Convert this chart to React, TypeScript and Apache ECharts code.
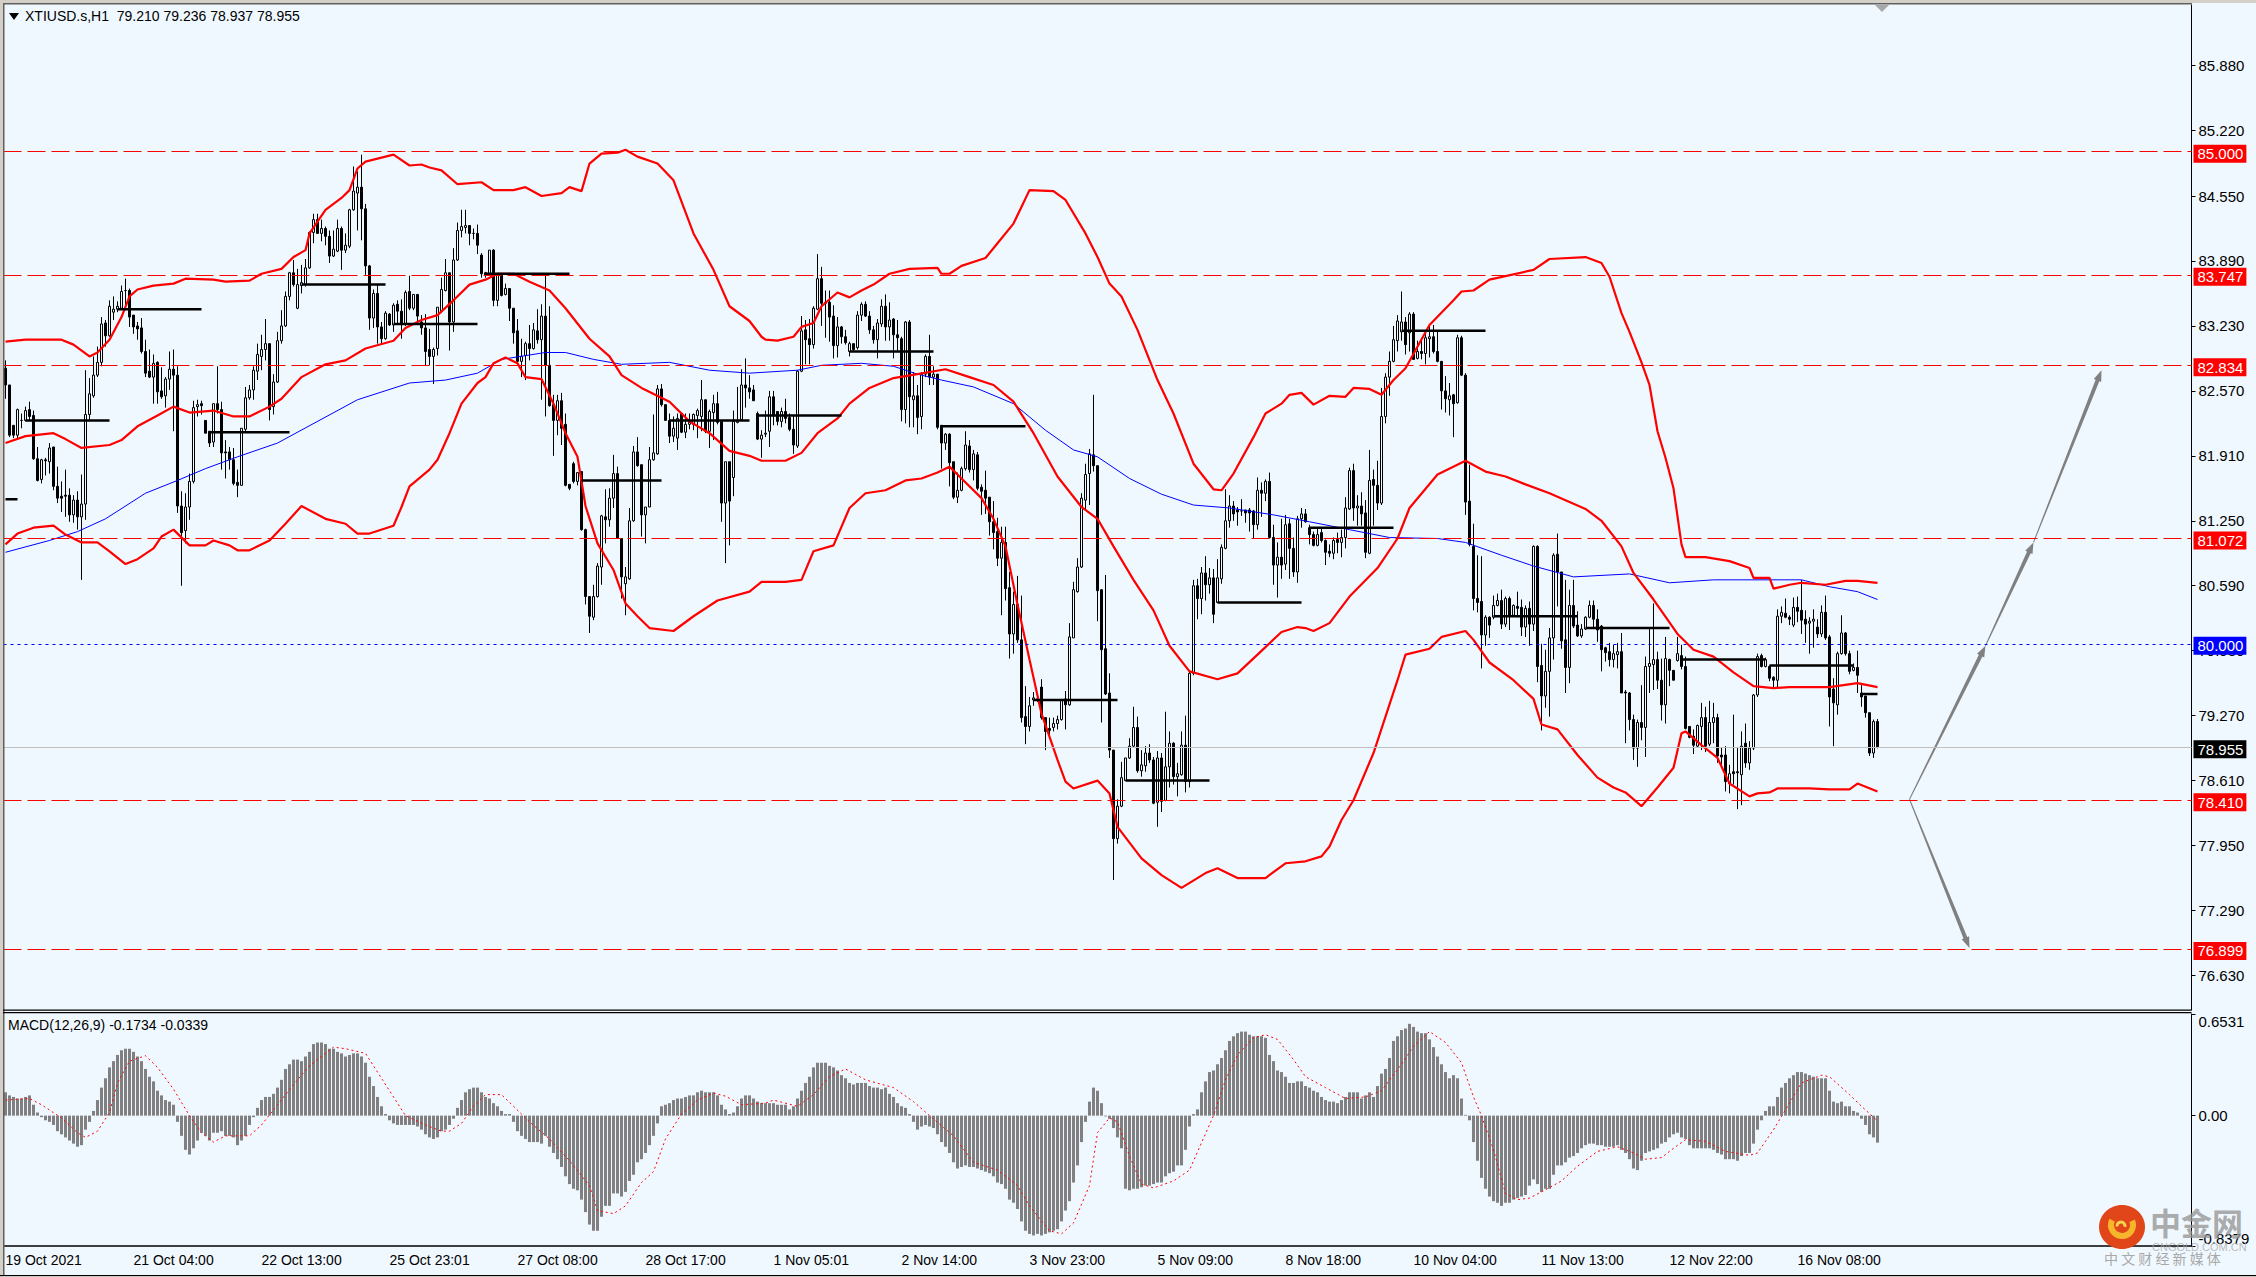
import React, { useEffect, useRef } from "react";
import * as echarts from "echarts";

const timeLabels = ["19 Oct 2021","21 Oct 04:00","22 Oct 13:00","25 Oct 23:01","27 Oct 08:00","28 Oct 17:00","1 Nov 05:01","2 Nov 14:00","3 Nov 23:00","5 Nov 09:00","8 Nov 18:00","10 Nov 04:00","11 Nov 13:00","12 Nov 22:00","16 Nov 08:00"];
const priceTicks = [85.88,85.22,84.55,83.89,83.23,82.57,81.91,81.25,80.59,79.93,79.27,78.61,77.95,77.29,76.63];
const macdTicks = [-0.8379,0,0.6531];
const titleText = "XTIUSD.s,H1  79.210 79.236 78.937 78.955";
const macdText = "MACD(12,26,9) -0.1734 -0.0339";

// [open, close, low, high]
const barsA = [[82.8,82.63,82.49,82.88],[82.63,82.12,82.1,82.63],[82.22,82.12,82.09,82.22],[82.12,82.38,82.09,82.39],[82.27,82.27,82.19,82.34],[82.27,82.37,82.26,82.41],[82.38,82.31,82.27,82.46],[82.32,81.88,81.87,82.37],[81.88,81.66,81.65,82],[81.67,81.87,81.63,81.88],
[81.87,81.86,81.71,81.89],[81.85,81.99,81.73,82.04],[82,81.6,81.56,82],[81.6,81.48,81.43,81.8],[81.5,81.48,81.34,81.65],[81.51,81.5,81.29,81.77],[81.51,81.31,81.24,81.58],[81.31,81.46,81.23,81.51],[81.46,81.29,81.16,81.55],[81.29,81.42,80.65,81.72],
[81.42,82.33,81.26,82.78],[82.33,82.54,82.27,82.7],[82.52,82.73,82.5,82.92],[82.73,82.86,82.71,83.02],[82.86,83.25,82.82,83.32],[83.26,83.13,83.02,83.29],[83.13,83.43,83.12,83.49],[83.37,83.4,83.29,83.53],[83.4,83.43,83.37,83.48],[83.41,83.58,83.39,83.64],
[83.59,83.59,83.41,83.71],[83.59,83.32,83.22,83.61],[83.34,83.22,83.15,83.34],[83.23,83.2,83.09,83.27],[83.21,82.97,82.95,83.31],[82.97,82.75,82.71,83.09],[82.77,82.71,82.7,82.99],[82.71,82.85,82.44,82.94],[82.86,82.56,82.44,82.87],[82.57,82.51,82.49,82.81],
[82.52,82.69,82.4,82.71],[82.69,82.79,82.58,82.97],[82.79,82.73,82.16,82.99],[82.73,81.4,81.33,82.82],[81.4,81.13,80.59,81.55],[81.15,81.39,81.02,81.53],[81.39,81.65,81.26,81.73],[81.65,82.4,81.63,82.47],[82.41,82.43,82.31,82.48],[82.44,82.42,82.33,82.47],
[82.27,82.14,82.14,82.27],[82.16,82.04,82,82.16],[82.05,82.44,82,82.44],[82.44,82.38,82.34,82.82],[82.38,81.94,81.77,82.46],[81.95,81.94,81.68,82.07],[81.95,81.87,81.77,82],[81.87,81.63,81.61,81.99],[81.64,81.61,81.49,81.77],[81.61,82.19,81.61,82.19],
[82.18,82.5,82.16,82.61],[82.5,82.58,82.48,82.63],[82.58,82.78,82.48,82.82],[82.77,82.94,82.68,83.05],[82.92,82.99,82.78,83.14],[82.99,83.05,82.88,83.3],[83.05,82.38,82.27,83.05],[82.41,82.66,82.33,82.74],[82.66,83.08,82.65,83.17],[83.08,83.23,83.05,83.39],
[83.23,83.53,83.22,83.58],[83.53,83.77,83.49,83.78],[83.77,83.65,83.63,83.9],[83.41,83.65,83.4,83.81],[83.64,83.67,83.56,83.85],[83.65,83.82,83.63,83.91],[83.82,84.18,83.81,84.19],[84.18,84.31,84.07,84.37],[84.31,84.17,84.17,84.37],[84.17,84.22,84.09,84.31],
[84.22,84.14,84.05,84.24],[84.14,83.94,83.87,84.2],[83.94,84.01,83.93,84.2],[83.99,84.22,83.98,84.31],[84.22,84,83.8,84.24],[84,84.05,83.97,84.17],[84.04,84.41,84.02,84.42],[84.41,84.6,84.4,84.85],[84.58,84.64,84.2,84.8],[84.64,84.42,84.1,84.97],
[84.42,83.84,83.75,84.47],[83.84,83.31,83.19,83.85],[83.31,83.56,83.21,83.6]];
const barsB = [[83.56,83.22,83.05,83.65],[83.22,83.1,83.05,83.27],[83.1,83.36,83.09,83.38],[83.35,83.24,83.23,83.36],[83.24,83.44,83.17,83.46],[83.45,83.38,83.26,83.49],[83.38,83.25,83.1,83.5],[83.25,83.57,83.23,83.59],
[83.58,83.41,83.39,83.74],[83.41,83.55,83.39,83.55],[83.55,83.33,83.27,83.55],[83.27,83.21,83.14,83.34],[83.21,82.97,82.83,83.35],[82.99,82.92,82.83,83.2],[82.92,82.99,82.64,83.01],[83,83.42,82.93,83.42],[83.38,83.6,83.36,83.72],[83.59,83.77,83.58,83.91],
[83.77,83.27,82.98,83.77],[83.27,83.9,83.17,84.02],[83.9,84.2,83.89,84.28],[84.2,84.24,84.13,84.41],[84.23,84.25,84.17,84.41],[84.25,84.17,84.05,84.25],[84.17,84.17,84.11,84.22],[84.17,84.05,83.96,84.26],[83.95,83.76,83.72,83.97],[83.77,83.75,83.72,83.78],
[83.76,84,83.75,84],[84,83.49,83.43,84.01],[83.49,83.75,83.43,83.76],[83.75,83.54,83.53,83.76],[83.55,83.61,83.54,83.66],[83.61,83.41,83.28,83.61],[83.41,83.16,83.05,83.41],[83.18,82.87,82.83,83.3],[82.87,82.92,82.71,83.1],[82.93,83.05,82.68,83.07],
[83.05,83,82.88,83.24],[83,83.19,82.99,83.26],[83.18,83.09,83.05,83.4],[83.09,83.33,82.48,83.45],[83.33,82.83,82.31,83.76],[82.83,82.42,82.41,83.43],[82.43,82.27,81.91,82.53],[82.27,82.47,82.12,82.53],[82.47,82.19,82.02,82.55],[82.23,81.61,81.6,82.34],
[81.62,81.58,81.56,81.62],[81.83,81.65,81.63,81.85],[81.65,81.74,81.61,81.74],[81.75,81.16,81.15,81.75],[81.16,80.48,80.4,81.17],[80.48,80.28,80.11,80.48],[80.27,80.48,80.24,80.6],[80.48,80.79,80.47,80.82],[80.78,81.3,80.6,81.31],[81.29,81.26,81.02,81.57],
[81.26,81.48,81.19,81.58],[81.48,81.73,81.38,81.92],[81.73,81.07,81.07,81.8],[81.07,80.68,80.46,81.07],[80.61,80.68,80.29,80.78],[80.66,81.25,80.65,81.38],[81.25,81.95,81.24,82.01],[81.95,81.81,81.8,82.1],[81.82,81.31,81.09,81.82],[81.31,81.39,81.02,81.39],
[81.39,81.87,81.39,82],[81.87,81.94,81.86,82.33],[81.93,82.59,81.92,82.63],[82.59,82.43,82.41,82.64],[82.43,82.27,82.27,82.43],[82.27,82.11,82.04,82.34],[82.11,82.19,82.05,82.31],[82.09,82.29,81.97,82.34],[82.34,82.15,82.14,82.34],[82.15,82.23,82.09,82.34],
[82.23,82.25,82.18,82.34],[82.23,82.33,82.17,82.34],[82.32,82.37,82.09,82.39],[82.31,82.48,82.16,82.68],[82.48,82.16,82.14,82.48],[82.16,82.36,81.99,82.38],[82.35,82.44,82.07,82.53],[82.44,82.25,82.23,82.56],[82.26,81.43,81.24,82.26],[81.43,81.85,80.82,81.85],
[81.85,81.45,81,81.85],[81.69,82.26,81.5,82.37],[82.25,82.27,82.24,82.61],[82.28,82.63,82.27,82.79],[82.63,82.6,82.4,82.9],[82.6,82.56,82.49,82.73]];
const barsC = [[82.58,82.47,82.47,82.63],[82.34,82.08,82.07,82.36],[82.08,82.12,81.89,82.17],[82.13,82.14,82.1,82.37],[82.16,82.51,82,82.57],[82.51,82.32,82.22,82.57],[82.36,82.26,82.22,82.36],[82.26,82.36,82.2,82.4],[82.36,82.29,82.24,82.49],[82.3,82.18,82.16,82.34],
[82.18,82.02,81.93,82.32],[82.01,82.77,81.99,82.78],[82.77,83.18,82.76,83.33],[83.19,83.09,82.84,83.29],[83.1,83.04,82.84,83.3],[83.04,83.41,83,83.43],[83.4,83.71,83.39,83.96],[83.71,83.46,83.23,83.83],[83.46,83.47,83.11,83.59],[83.47,83.32,83.07,83.59],
[83.33,83.03,82.9,83.44],[83.03,83.22,82.91,83.32],[83.22,83.12,83.05,83.23],[83.12,83.06,83.04,83.19],[82.97,83.05,82.92,83.07],[83.05,82.99,82.97,83.05],[83.01,83.34,82.99,83.38],[83.34,83.45,83.28,83.47],[83.45,83.33,83.32,83.48],[83.33,83.19,83.15,83.38],
[83.19,83.09,83.05,83.23],[83.09,83.26,82.9,83.3],[83.25,83.43,83.22,83.5],[83.43,83.22,83.08,83.55],[83.22,83.29,83.08,83.47],[83.3,83.14,82.9,83.31],[83.14,83.11,82.97,83.29],[83.1,82.38,82.26,83.12],[82.38,83.27,82.24,83.28],[83.27,82.51,82.2,83.29],
[82.48,82.52,82.2,82.76],[82.52,82.3,82.13,82.63],[82.31,82.74,82.18,82.76],[82.74,82.92,82.71,82.94],[82.92,82.71,82.63,83.14],[82.71,82.74,82.63,82.82],[82.74,82.2,82.18,82.74],[82.22,82.04,81.78,82.22],[82.04,82.13,81.97,82.14],[82.13,81.84,81.6,82.14],
[81.85,81.49,81.47,81.85],[81.49,81.56,81.43,81.74],[81.56,81.78,81.55,81.8],[81.78,82.02,81.76,82.16],[82.01,81.77,81.74,82.07],[81.77,81.93,81.66,81.97],[81.92,81.58,81.56,81.95],[81.59,81.55,81.31,81.62],[81.56,81.48,81.32,81.76],[81.49,81.24,81.1,81.49],
[81.24,81.13,80.96,81.45],[81.14,80.87,80.79,81.28],[80.87,81.03,80.29,81.19],[81.03,80.56,80.44,81.19],[80.57,80.1,79.85,80.73],[80.1,80.4,79.9,80.53],[80.4,80.04,80.01,80.69],[80.04,79.25,79.2,80.49],[79.26,79.16,78.98,79.57],[79.16,79.37,79.11,79.46],
[79.43,79.45,79.37,79.51],[79.44,79.43,79.41,79.47],[79.56,79.25,79.23,79.64],[79.25,79.11,78.92,79.25],[79.14,79.12,79.03,79.25],[79.15,79.19,79.11,79.25],[79.19,79.23,79.13,79.27],[79.23,79.43,79.22,79.44],[79.44,79.38,79.13,79.52],[79.38,80.07,79.37,80.21],
[80.06,80.55,80.06,80.63],[80.53,80.78,80.52,80.87],[80.78,81.48,80.77,81.53],[81.46,81.72,81.35,81.83],[81.73,81.93,81.41,81.98],[81.92,81.81,81.75,82.53],[81.81,80.54,80.23,81.81],[80.55,79.94,79.2,80.55],[79.95,79.49,79.48,80.7],[79.5,78.92,78.84,79.7],
[78.92,78.02,77.6,78.92],[78.02,78.35,77.97,78.42],[78.35,78.64,78.34,78.8]];
const barsD = [[78.61,78.84,78.61,78.84],[78.84,78.96,78.83,79.04],[78.96,79.15,78.95,79.36],[79.15,78.71,78.69,79.26],[78.71,78.77,78.65,78.92],[78.76,78.89,78.7,78.96],[78.89,78.82,78.79,78.98],[78.82,78.38,78.37,78.85],[78.39,78.84,78.14,78.91],[78.84,78.4,78.29,78.89],
[78.41,78.75,78.4,79.31],[78.75,78.99,78.54,79.11],[78.99,78.65,78.57,79],[78.65,78.68,78.45,78.79],[78.67,78.97,78.66,79.11],[78.97,78.6,78.49,79.27],[78.6,79.7,78.54,79.72],[79.7,80.59,79.68,80.65],[80.59,80.46,80.25,80.66],[80.46,80.72,80.3,80.78],
[80.72,80.6,80.44,80.89],[80.6,80.67,80.51,80.77],[80.67,80.3,80.21,80.76],[80.42,80.67,80.42,80.86],[80.66,80.98,80.61,81.01],[80.97,81.25,80.96,81.57],[81.25,81.4,81.18,81.51],[81.4,81.32,81.25,81.45],[81.36,81.34,81.2,81.39],[81.35,81.35,81.3,81.47],
[81.36,81.33,81.23,81.36],[81.36,81.33,81.14,81.38],[81.35,81.21,81.07,81.36],[81.21,81.56,81.16,81.69],[81.56,81.53,81.29,81.64],[81.53,81.65,81.45,81.67],[81.65,81.08,81.07,81.74],[81.08,80.8,80.6,81.21],[80.8,80.88,80.47,81.03],[80.88,80.8,80.66,81.27],
[80.81,81.21,80.75,81.31],[81.22,80.97,80.66,81.27],[80.97,80.73,80.68,81.08],[80.73,81.27,80.62,81.3],[81.27,81.32,81.18,81.38],[81.32,81.24,81.23,81.37],[81.18,81.11,81.01,81.21],[81.11,81,80.99,81.14],[81,81.11,80.99,81.17],[81.13,81.05,81.03,81.17],
[81.05,80.93,80.8,81.06],[80.94,80.92,80.88,81.01],[80.92,81.05,80.86,81.08],[81.06,81.03,80.92,81.13],[81.03,81.08,80.88,81.16],[81.08,81.38,80.97,81.49],[81.37,81.76,81.36,81.79],[81.76,81.38,81.25,81.83],[81.38,81.4,81.2,81.51],[81.4,81.32,81.2,81.54],
[81.33,80.93,80.87,81.46],[80.92,81.66,80.91,81.97],[81.67,81.61,81.2,81.77],[81.61,81.43,81.36,81.86],[81.43,82.31,81.41,82.6],[82.31,82.71,82.24,82.75],[82.71,82.87,82.52,82.97],[82.87,83.09,82.86,83.23],[83.08,83.28,82.97,83.34],[83.17,83.27,83.08,83.58],
[83.27,83.04,82.94,83.32],[83.16,83.35,82.97,83.37],[83.35,82.89,82.89,83.37],[82.9,82.97,82.89,83.08],[82.97,82.95,82.89,83.11],[82.95,83.11,82.84,83.16],[83.1,83.12,82.91,83.24],[83.12,82.97,82.95,83.24],[82.97,82.87,82.86,83.17],[82.87,82.57,82.38,82.87],
[82.57,82.49,82.35,82.72],[82.48,82.52,82.32,82.65],[82.53,82.44,82.1,82.54],[82.45,83.11,82.44,83.14],[83.11,82.73,82.72,83.13],[82.73,81.44,81.31,82.75],[81.45,81.01,80.99,81.82],[80.99,80.46,80.34,81.22],[80.46,80.42,80.32,80.9],[80.43,80.09,79.75,80.89],
[80.09,80.27,79.98,80.29],[80.27,80.19,80.06,80.28],[80.27,80.39,80.25,80.49],[80.39,80.44,80.38,80.51]];
const barsE = [[80.44,80.2,80.15,80.55],[80.2,80.46,80.17,80.48],[80.46,80.28,80.14,80.48],[80.29,80.39,80.28,80.4],[80.38,80.36,80.27,80.53],[80.37,80.17,80.08,80.45],[80.17,80.36,80.07,80.39],[80.36,80.2,79.98,80.43],[80.2,80.99,80.13,81],[80.99,79.77,79.61,81],
[79.78,79.47,79.12,80],[79.47,79.72,79.35,79.94],[79.72,80.06,79.26,80.16],[80.06,80.9,79.84,80.92],[80.91,80.73,80.38,81.12],[80.73,80.03,79.95,80.73],[80.04,79.76,79.5,80.65],[79.76,80.39,79.6,80.55],[80.39,80.18,80.16,80.65],[80.19,80.08,80.07,80.33],
[80.08,80.15,80.06,80.2],[80.15,80.27,80.14,80.28],[80.27,80.39,80.26,80.44],[80.39,80.25,80.16,80.44],[80.25,80.14,80.02,80.35],[80.18,79.94,79.72,80.19],[79.96,79.91,79.82,79.97],[79.92,79.84,79.77,80.01],[79.84,79.9,79.76,79.99],[79.89,79.92,79.75,80.01],
[79.92,79.5,79.5,80.11],[79.51,79.5,78.99,79.53],[79.5,79.23,79.12,79.51],[79.23,78.94,78.82,79.28],[78.94,79.2,78.75,79.23],[79.2,79.15,79.02,79.58],[79.15,79.77,78.85,79.87],[79.77,79.8,79.5,80.16],[79.79,79.84,79.53,80.41],[79.84,79.63,79.54,79.92],
[79.63,79.38,79.22,79.85],[79.38,79.85,79.19,80.07],[79.84,79.73,79.57,79.85],[79.73,79.63,79.63,79.73],[79.83,79.9,79.82,80.07],[79.88,79.77,79.74,79.99],[79.77,79.14,79.13,79.87],[79.16,79.05,79.04,79.16],[79.06,78.97,78.88,79.13],[78.96,79.17,78.95,79.18],
[79.16,79.25,78.92,79.4],[79.25,78.96,78.9,79.36],[78.98,79.2,78.96,79.42],[79.2,79.25,78.99,79.4],[79.25,78.86,78.79,79.29],[78.87,78.85,78.74,78.95],[78.87,78.6,78.5,78.96],[78.58,78.68,78.48,78.77],[78.7,78.68,78.57,79.28],[78.7,78.69,78.32,78.94],
[78.67,78.96,78.36,79.11],[78.99,78.79,78.74,79.19],[78.79,78.94,78.72,79.01],[78.94,79.48,78.92,79.49],[79.48,79.87,79.46,79.9],[79.88,79.77,79.76,79.9],[79.77,79.84,79.76,79.86],[79.77,79.65,79.62,79.78],[79.66,79.63,79.55,79.67],[79.63,80.28,79.55,80.35],
[80.28,80.32,80.21,80.38],[80.31,80.27,80.26,80.46],[80.27,80.25,80.19,80.29],[80.19,80.37,80.17,80.47],[80.37,80.33,80.22,80.48],[80.34,80.24,80.1,80.65],[80.25,80.2,80.01,80.34],[80.21,80.23,79.9,80.27],[80.23,80.25,79.96,80.35],[80.17,80.1,80.06,80.25],
[80.1,80.32,80.07,80.39],[80.32,80.06,80.04,80.49],[80.07,79.46,79.16,80.09],[79.54,79.4,78.96,79.65],[79.38,79.9,79.28,79.92],[79.9,80.11,79.89,80.29],[80.11,79.9,79.88,80.12],[79.9,79.72,79.69,79.93],[79.73,79.76,79.72,79.8],[79.76,79.68,79.5,79.93],
[79.5,79.46,79.36,79.58],[79.47,79.3,79.25,79.47],[79.3,78.89,78.86,79.3],[78.89,79.21,78.84,79.23],[79.21,78.955,78.937,79.236]];

const upperBand = [[0,83.07],[5,83.09],[14,83.09],[17,83.04],[21,82.92],[23,82.96],[26,83.09],[29,83.32],[31,83.53],[33,83.6],[37,83.64],[42,83.66],[45,83.71],[52,83.7],[55,83.68],[61,83.69],[64,83.76],[69,83.81],[72,83.93],[75,84],[76,84.17],[80,84.41],[84,84.53],[86,84.61],[88,84.83],[90,84.9],[97,84.97],[101,84.86],[104,84.87],[106,84.84],[109,84.81],[113,84.67],[119,84.69],[122,84.61],[127,84.61],[130,84.64],[134,84.55],[139,84.58],[141,84.64],[144,84.6],[146,84.88],[149,84.98],[153,84.99],[155,85.02],[158,84.95],[163,84.88],[167,84.71],[172,84.17],[177,83.8],[181,83.43],[186,83.28],[189,83.12],[190,83.09],[193,83.08],[197,83.12],[199,83.22],[202,83.26],[204,83.43],[208,83.57],[211,83.52],[214,83.59],[217,83.65],[221,83.76],[226,83.81],[233,83.82],[234,83.76],[236,83.76],[239,83.84],[245,83.92],[248,84.07],[252,84.27],[256,84.61],[262,84.6],[265,84.51],[270,84.17],[273,83.93],[276,83.66],[279,83.53],[283,83.19],[288,82.68],[292,82.34],[297,81.83],[302,81.57],[304,81.56],[307,81.73],[312,82.1],[315,82.34],[319,82.44],[321,82.53],[324,82.55],[327,82.43],[331,82.52],[335,82.51],[337,82.6],[341,82.59],[344,82.53],[347,82.68],[350,82.8],[356,83.24],[362,83.49],[364,83.58],[367,83.59],[371,83.7],[382,83.8],[386,83.91],[395,83.93],[399,83.87],[401,83.73],[404,83.36],[406,83.17],[409,82.86],[411,82.63],[413,82.16],[415,81.89],[417,81.58],[419,81.01],[420,80.88],[425,80.88],[431,80.84],[436,80.77],[437,80.67],[441,80.67],[442,80.56],[446,80.6],[449,80.62],[455,80.6],[460,80.64],[463,80.64],[468,80.62]];
const middleBand = [[0,82.04],[5,82.11],[12,82.14],[15,82.08],[19,81.99],[26,82.02],[29,82.07],[33,82.21],[38,82.32],[42,82.41],[46,82.35],[52,82.37],[57,82.31],[61,82.31],[66,82.41],[69,82.49],[74,82.71],[80,82.84],[85,82.88],[90,83],[97,83.08],[100,83.21],[104,83.29],[108,83.34],[112,83.49],[116,83.65],[120,83.7],[123,83.76],[127,83.76],[131,83.68],[136,83.59],[140,83.41],[146,83.1],[151,82.92],[154,82.73],[159,82.6],[166,82.46],[171,82.26],[176,82.14],[181,81.96],[186,81.91],[189,81.86],[195,81.86],[199,81.94],[203,82.14],[208,82.29],[211,82.44],[216,82.6],[222,82.7],[228,82.74],[235,82.79],[241,82.71],[247,82.63],[252,82.46],[257,82.14],[263,81.7],[269,81.39],[273,81.27],[277,80.99],[282,80.65],[287,80.34],[291,79.98],[296,79.72],[303,79.64],[308,79.7],[313,79.89],[319,80.12],[323,80.17],[325,80.16],[327,80.13],[331,80.21],[336,80.48],[343,80.77],[348,81.07],[351,81.38],[358,81.72],[365,81.86],[370,81.75],[375,81.7],[380,81.62],[386,81.53],[395,81.37],[399,81.25],[404,80.99],[407,80.72],[412,80.45],[418,80.1],[422,79.94],[427,79.87],[432,79.71],[437,79.57],[442,79.55],[446,79.56],[456,79.56],[463,79.6],[468,79.56]];
const lowerBand = [[0,81.01],[3,81.12],[7,81.18],[12,81.2],[15,81.11],[19,81.03],[23,81.03],[26,80.94],[30,80.81],[33,80.86],[37,80.97],[39,81.09],[42,81.16],[46,81],[50,81],[52,81.05],[56,81],[58,80.95],[61,80.95],[66,81.05],[70,81.22],[74,81.4],[80,81.27],[85,81.22],[88,81.12],[91,81.12],[97,81.2],[99,81.39],[101,81.6],[106,81.77],[108,81.87],[111,82.14],[114,82.44],[118,82.65],[120,82.71],[122,82.85],[125,82.91],[128,82.85],[130,82.71],[134,82.69],[137,82.44],[140,82.14],[143,81.9],[145,81.4],[148,81.02],[152,80.75],[155,80.41],[158,80.28],[161,80.16],[167,80.13],[172,80.28],[178,80.44],[186,80.53],[189,80.63],[195,80.63],[199,80.65],[202,80.94],[207,81],[211,81.38],[215,81.53],[220,81.56],[225,81.66],[229,81.68],[233,81.74],[236,81.8],[239,81.68],[244,81.48],[247,81.27],[250,80.99],[253,80.4],[256,79.84],[259,79.29],[263,78.82],[265,78.6],[267,78.53],[273,78.61],[276,78.48],[278,78.14],[284,77.82],[289,77.65],[294,77.52],[300,77.67],[303,77.72],[308,77.62],[315,77.62],[320,77.77],[325,77.79],[329,77.84],[331,77.94],[334,78.21],[337,78.41],[342,78.89],[345,79.26],[348,79.63],[350,79.89],[356,79.95],[359,80.07],[365,80.13],[367,80.04],[371,79.81],[377,79.63],[382,79.44],[384,79.18],[388,79.13],[393,78.87],[398,78.64],[402,78.54],[405,78.49],[409,78.35],[413,78.54],[417,78.74],[419,79.09],[420,79.11],[424,78.97],[428,78.84],[431,78.58],[436,78.45],[438,78.48],[441,78.49],[443,78.53],[451,78.53],[456,78.52],[461,78.52],[463,78.58],[468,78.5]];
const ma200 = [[0,80.93],[11,81.05],[18,81.14],[25,81.27],[35,81.53],[43,81.66],[50,81.78],[58,81.9],[68,82.04],[88,82.48],[101,82.65],[110,82.68],[118,82.75],[124,82.89],[135,82.96],[140,82.96],[147,82.89],[154,82.84],[166,82.86],[176,82.78],[186,82.75],[198,82.78],[204,82.83],[214,82.85],[222,82.82],[228,82.74],[234,82.68],[242,82.61],[252,82.44],[260,82.17],[267,81.97],[273,81.9],[281,81.68],[289,81.52],[297,81.41],[306,81.38],[317,81.31],[326,81.24],[336,81.16],[346,81.08],[358,81.07],[365,81.03],[374,80.9],[382,80.79],[392,80.68],[406,80.71],[416,80.62],[427,80.65],[449,80.65],[456,80.58],[463,80.53],[468,80.45]];

const dailyStart = [0,5,28,51,74,97,120,144,166,188,211,234,257,280,303,326,349,372,395,419,441,464];
const dailyEnd = [3,26,49,71,95,118,141,164,186,209,232,255,278,301,324,347,370,393,416,440,462,468];
const dailyLevel = [81.47,82.27,83.4,82.15,83.65,83.25,83.76,81.66,82.27,82.32,82.97,82.21,79.43,78.61,80.42,81.18,83.18,80.28,80.16,79.84,79.78,79.49];

const redLevels = [85,83.747,82.834,81.072,78.41,76.899];
const blueLevel = 80;
const bidLevel = 78.955;
const arrowSegments = [[476,78.42,494.9,79.98],[494.9,79.98,506.5,81.03],[506.5,81.03,523.5,82.78],[476,78.42,491.4,76.91]];

const macdHistogram = [.15,.13,.12,.11,.11,.12,.13,.07,.02,-.01,
-.03,-.04,-.06,-.1,-.12,-.14,-.16,-.18,-.2,-.19,
-.09,-.04,.03,.1,.18,.24,.31,.35,.39,.42,
.43,.43,.41,.38,.35,.3,.25,.22,.16,.13,
.1,.09,.07,-.04,-.13,-.22,-.25,-.21,-.16,-.11,
-.13,-.16,-.11,-.11,-.1,-.13,-.13,-.14,-.19,-.16,
-.13,-.06,-.01,.05,.1,.12,.12,.14,.18,.23,
.3,.33,.36,.36,.35,.38,.41,.46,.47,.47,
.46,.43,.43,.41,.4,.38,.39,.4,.4,.38,
.34,.25,.19,.12,.06,.01,-.03,-.05,-.06,-.06,
-.06,-.06,-.06,-.07,-.09,-.12,-.14,-.15,-.14,-.1,
-.09,-.06,-.02,.05,.1,.15,.17,.18,.18,.15,
.12,.11,.08,.06,.03,.01,.01,-.04,-.1,-.13,
-.15,-.17,-.17,-.17,-.18,-.13,-.2,-.24,-.28,-.33,
-.39,-.44,-.47,-.48,-.54,-.62,-.7,-.74,-.74,-.65,
-.58,-.58,-.5,-.5,-.52,-.49,-.42,-.38,-.3,-.28,
-.24,-.19,-.13,-.05,.06,.07,.08,.1,.11,.11,
.12,.13,.13,.15,.16,.15,.15,.15,.13,.07,
.04,.01,.02,.06,.11,.13,.13,.11,.09,.08,
.08,.08,.08,.07,.07,.07,.04,.06,.11,.16,
.21,.25,.31,.34,.34,.34,.32,.31,.29,.26,
.24,.21,.2,.21,.21,.21,.19,.18,.18,.17,
.18,.14,.12,.08,.06,.05,.01,-.04,-.09,-.07,
-.06,-.07,-.08,-.12,-.17,-.2,-.24,-.3,-.34,-.33,
-.32,-.33,-.33,-.34,-.35,-.36,-.37,-.39,-.43,-.44,
-.47,-.54,-.56,-.6,-.68,-.74,-.76,-.77,-.76,-.77,
-.76,-.75,-.74,-.73,-.68,-.61,-.55,-.43,-.32,-.17,
-.04,.09,.18,.16,.08,-.005,-.02,-.08,-.14,-.21,
-.47,-.48,-.47,-.47,-.46,-.45,-.45,-.44,-.43,-.43,
-.39,-.37,-.36,-.32,-.32,-.22,-.07,.01,.04,.15,
.22,.28,.29,.33,.37,.42,.48,.51,.53,.54,
.54,.52,.51,.51,.51,.5,.39,.35,.29,.28,
.25,.21,.21,.22,.22,.19,.18,.16,.15,.12,
.1,.09,.09,.08,.1,.12,.15,.15,.15,.11,
.13,.15,.12,.19,.27,.3,.37,.48,.51,.55,
.56,.59,.57,.54,.53,.53,.49,.44,.38,.33,
.28,.24,.26,.24,.11,.005,-.03,-.17,-.29,-.4,
-.47,-.52,-.55,-.56,-.58,-.56,-.56,-.54,-.53,-.52,
-.51,-.45,-.41,-.44,-.49,-.47,-.47,-.38,-.32,-.32,
-.3,-.27,-.26,-.24,-.21,-.19,-.18,-.18,-.19,-.19,
-.2,-.2,-.2,-.19,-.22,-.24,-.28,-.34,-.35,-.29,
-.24,-.23,-.22,-.21,-.18,-.17,-.14,-.12,-.11,-.14,
-.15,-.19,-.21,-.21,-.21,-.21,-.21,-.22,-.24,-.25,
-.28,-.28,-.28,-.29,-.26,-.24,-.24,-.18,-.09,-.03,
.03,.06,.06,.12,.18,.21,.24,.26,.28,.28,
.27,.26,.25,.24,.24,.24,.16,.09,.08,.09,
.06,.06,.03,.02,-.02,-.06,-.12,-.14,-.1734];
const macdSignal = [[0,.1],[6,.11],[9,.07],[14,-.015],[18,-.11],[20,-.14],[23,-.1],[26,.02],[28,.21],[31,.35],[35,.385],[38,.31],[42,.17],[46,0],[49,-.11],[52,-.17],[55,-.13],[61,-.13],[64,-.06],[68,.07],[73,.23],[76,.32],[82,.44],[85,.43],[90,.4],[93,.28],[97,.12],[100,0],[105,-.06],[109,-.1],[111,-.1],[114,-.05],[117,.06],[120,.135],[124,.135],[127,.06],[131,-.04],[136,-.15],[141,-.29],[146,-.45],[148,-.61],[152,-.63],[155,-.58],[159,-.43],[162,-.36],[165,-.15],[169,.01],[173,.1],[177,.145],[180,.125],[184,.07],[190,.08],[192,.1],[198,.06],[202,.135],[206,.25],[210,.3],[215,.23],[222,.18],[227,.09],[231,0],[237,-.13],[242,-.3],[248,-.35],[253,-.45],[256,-.58],[261,-.74],[264,-.76],[267,-.69],[271,-.45],[273,-.11],[276,-.015],[278,-.04],[281,-.26],[284,-.44],[287,-.465],[292,-.42],[296,-.35],[299,-.175],[302,0],[305,.23],[308,.39],[312,.5],[315,.52],[318,.49],[322,.36],[325,.25],[330,.18],[335,.11],[340,.12],[344,.16],[349,.33],[352,.445],[356,.54],[360,.47],[364,.34],[367,.12],[369,0],[372,-.22],[375,-.5],[378,-.54],[381,-.53],[384,-.49],[389,-.42],[393,-.325],[398,-.23],[403,-.2],[407,-.24],[410,-.28],[414,-.27],[417,-.21],[420,-.155],[425,-.165],[430,-.23],[436,-.255],[438,-.24],[442,-.09],[446,.08],[449,.21],[454,.26],[456,.25],[461,.135],[464,.06],[468,-.0339]];

const FONT = "Liberation Sans";
const BG = "#F0F8FF";
const CATEGORY_COUNT = 547;
const categories = Array.from({ length: CATEGORY_COUNT }, (_, i) => (i % 32 === 0 ? timeLabels[i / 32] ?? "" : ""));

const dailySegments: any[] = [];
dailyLevel.forEach((v, k) => {
  dailySegments.push([dailyStart[k], v], [dailyEnd[k], v]);
  dailySegments.push([dailyEnd[k] + 1, null]);
});

const tag = (value: number, bg: string, color: string, line: any) => ({
  yAxis: value,
  lineStyle: line,
  label: {
    show: true, position: "end", distance: 2, formatter: value.toFixed(3), color, backgroundColor: bg,
    fontFamily: FONT, fontSize: 15, padding: [2, 3, 1, 4], offset: [0, 2],
  },
});

function buildOption(): any {
  return {
    animation: false,
    backgroundColor: BG,
    textStyle: { fontFamily: FONT },
    grid: [
      { left: 3.5, right: 64.5, top: 5, height: 1005 },
      { left: 3.5, right: 64.5, top: 1014, height: 232 },
    ],
    xAxis: [
      { type: "category", gridIndex: 0, data: categories, axisLine: { show: false }, axisTick: { show: false }, axisLabel: { show: false } },
      {
        type: "category", gridIndex: 1, data: categories,
        axisLine: { onZero: false, lineStyle: { color: "#000", width: 1.5 } },
        axisTick: { interval: 31, alignWithLabel: true, length: 5, lineStyle: { color: "#000" } },
        axisLabel: { interval: 31, align: "left", margin: 7, color: "#000", fontFamily: FONT, fontSize: 14 },
      },
    ],
    yAxis: [
      {
        type: "value", gridIndex: 0, position: "right", min: 76.279, max: 86.491, splitLine: { show: false },
        axisLine: { show: true, lineStyle: { color: "#000" } },
        axisTick: { show: true, length: 4, customValues: priceTicks, lineStyle: { color: "#000" } },
        axisLabel: { show: true, customValues: priceTicks, margin: 7, color: "#000", fontFamily: FONT, fontSize: 15, formatter: (v: number) => v.toFixed(3) },
      },
      {
        type: "value", gridIndex: 1, position: "right", min: -0.8379, max: 0.6531, splitLine: { show: false },
        axisLine: { show: true, lineStyle: { color: "#000" } },
        axisTick: { show: true, length: 4, customValues: macdTicks, lineStyle: { color: "#000" } },
        axisLabel: {
          show: true, customValues: macdTicks, margin: 7, color: "#000", fontFamily: FONT, fontSize: 15,
          verticalAlignMaxLabel: "top", verticalAlignMinLabel: "bottom",
          formatter: (v: number) => (v === 0 ? "0.00" : v.toFixed(4)),
        },
      },
    ],
    series: [
      {
        type: "line", xAxisIndex: 0, yAxisIndex: 0, z: 1, silent: true, showSymbol: false, lineStyle: { opacity: 0 },
        data: [[0, bidLevel]],
        markLine: {
          silent: true, symbol: "none", animation: false,
          data: [
            ...redLevels.map((v) => tag(v, "#FF0000", "#FFFFFF", { color: "#FF0000", width: 1, type: [18, 6] })),
            tag(blueLevel, "#0000FF", "#FFFFFF", { color: "#0000FF", width: 1, type: [3, 4] }),
            tag(bidLevel, "#000000", "#FFFFFF", { color: "#C0C0C0", width: 1, type: "solid" }),
          ],
        },
      },
      {
        type: "candlestick", xAxisIndex: 0, yAxisIndex: 0, z: 2, barWidth: 3,
        data: [...barsA, ...barsB, ...barsC, ...barsD, ...barsE],
        itemStyle: { color: BG, color0: "#000", borderColor: "#000", borderColor0: "#000", borderColorDoji: "#000", borderWidth: 1 },
      },
      { type: "line", xAxisIndex: 0, yAxisIndex: 0, z: 3, showSymbol: false, data: ma200, lineStyle: { color: "#0000FF", width: 1 } },
      { type: "line", xAxisIndex: 0, yAxisIndex: 0, z: 3, showSymbol: false, data: upperBand, lineStyle: { color: "#FF0000", width: 2.2 } },
      { type: "line", xAxisIndex: 0, yAxisIndex: 0, z: 3, showSymbol: false, data: middleBand, lineStyle: { color: "#FF0000", width: 2.2 } },
      { type: "line", xAxisIndex: 0, yAxisIndex: 0, z: 3, showSymbol: false, data: lowerBand, lineStyle: { color: "#FF0000", width: 2.2 } },
      { type: "line", xAxisIndex: 0, yAxisIndex: 0, z: 3, showSymbol: false, connectNulls: false, data: dailySegments, lineStyle: { color: "#000", width: 2.5 } },
      {
        type: "custom", xAxisIndex: 0, yAxisIndex: 0, z: 4, silent: true, clip: false,
        encode: { x: [0, 2], y: [1, 3] },
        data: arrowSegments,
        renderItem: (_p: any, api: any) => {
          const a = api.coord([api.value(0), api.value(1)]);
          const b = api.coord([api.value(2), api.value(3)]);
          const dx = b[0] - a[0], dy = b[1] - a[1];
          const len = Math.hypot(dx, dy);
          const ux = dx / len, uy = dy / len, nx = -uy, ny = ux;
          const hx = b[0] - ux * 11, hy = b[1] - uy * 11;
          return {
            type: "polygon",
            shape: {
              points: [
                [a[0] + nx * 0.5, a[1] + ny * 0.5], [hx + nx * 2, hy + ny * 2], [hx + nx * 4, hy + ny * 4], b,
                [hx - nx * 4, hy - ny * 4], [hx - nx * 2, hy - ny * 2], [a[0] - nx * 0.5, a[1] - ny * 0.5],
              ],
            },
            style: { fill: "#808080" },
          };
        },
      },
      { type: "bar", xAxisIndex: 1, yAxisIndex: 1, barWidth: 3, data: macdHistogram, itemStyle: { color: "#808080" } },
      { type: "line", xAxisIndex: 1, yAxisIndex: 1, z: 3, showSymbol: false, data: macdSignal, lineStyle: { color: "#FF0000", width: 1, type: [2, 3] } },
    ],
    graphic: [
      { type: "rect", z: 50, shape: { x: 0, y: 0, width: 2256, height: 3 }, style: { fill: "#D4D0C8" } },
      { type: "rect", z: 50, shape: { x: 0, y: 3, width: 2192, height: 1.5 }, style: { fill: "#606060" } },
      { type: "rect", z: 50, shape: { x: 0, y: 0, width: 3, height: 1277 }, style: { fill: "#D4D0C8" } },
      { type: "rect", z: 50, shape: { x: 3, y: 3, width: 1.5, height: 1272 }, style: { fill: "#606060" } },
      { type: "rect", z: 50, shape: { x: 3, y: 1009.5, width: 2188.5, height: 1.2 }, style: { fill: "#000" } },
      { type: "rect", z: 50, shape: { x: 3, y: 1012, width: 2188.5, height: 1.2 }, style: { fill: "#000" } },
      { type: "rect", z: 50, shape: { x: 0, y: 1275, width: 2256, height: 1.2 }, style: { fill: "#000" } },
      { type: "rect", z: 50, shape: { x: 0, y: 1276.2, width: 2256, height: 1 }, style: { fill: "#D4D0C8" } },
      { type: "polygon", z: 50, shape: { points: [[9, 13], [19, 13], [14, 20]] }, style: { fill: "#000" } },
      { type: "polygon", z: 50, shape: { points: [[1875, 5], [1889, 5], [1882, 12]] }, style: { fill: "#A8A8A8" } },
      { type: "text", z: 50, x: 25, y: 9, style: { text: titleText, fontFamily: FONT, fontSize: 14, fill: "#000" } },
      { type: "text", z: 50, x: 8, y: 1018, style: { text: macdText, fontFamily: FONT, fontSize: 14, fill: "#000" } },
      { type: "ellipse", z: 60, shape: { cx: 2122, cy: 1227, rx: 23, ry: 22 }, style: { fill: "#E0461A" } },
      { type: "arc", z: 61, shape: { cx: 2122, cy: 1225, r: 11, startAngle: -0.4, endAngle: 3.6 }, style: { stroke: "#F7B52C", lineWidth: 6, fill: "none" } },
      { type: "arc", z: 61, shape: { cx: 2121, cy: 1226, r: 4, startAngle: 3, endAngle: 6.5 }, style: { stroke: "#F7D44C", lineWidth: 3, fill: "none" } },
      { type: "text", z: 61, x: 2150, y: 1206, style: { text: "中金网", fontFamily: "Noto Sans CJK SC", fontWeight: "bold", fontSize: 31, fill: "rgba(150,150,150,0.8)" } },
      { type: "text", z: 61, x: 2152, y: 1241, style: { text: "CNGOLD.COM.CN", fontFamily: FONT, fontSize: 11, fill: "rgba(170,170,170,0.8)" } },
      { type: "text", z: 61, x: 2104, y: 1251, style: { text: "中 文 财 经 新 媒 体", fontFamily: "Noto Sans CJK SC", fontSize: 14, fill: "#A8A8A8" } },
    ],
  };
}

export default function App() {
  const ref = useRef<HTMLDivElement>(null);
  useEffect(() => {
    const chart = echarts.init(ref.current!, undefined, { renderer: "svg" });
    chart.setOption(buildOption());
    return () => chart.dispose();
  }, []);
  return <div ref={ref} style={{ position: "absolute", left: 0, top: 0, width: 2256, height: 1277 }} />;
}
